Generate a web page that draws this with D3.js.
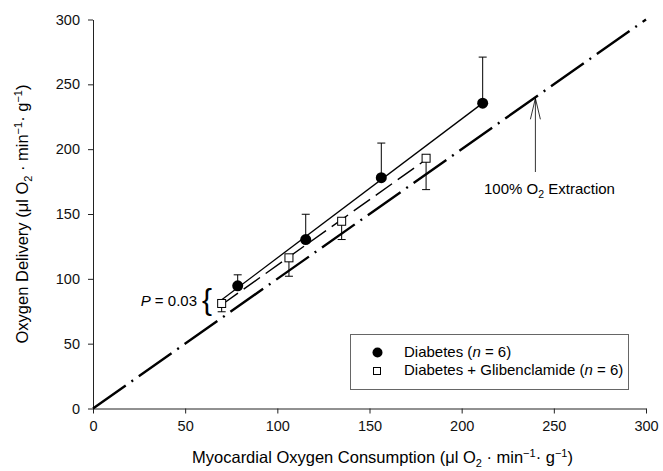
<!DOCTYPE html>
<html>
<head>
<meta charset="utf-8">
<script src="https://cdn.jsdelivr.net/npm/d3@7"></script>
<style>
  body { margin: 0; background: #fff; }
  svg { font-family: "Liberation Sans", Arial, sans-serif; }
</style>
</head>
<body>
<svg id="chart" width="663" height="471"></svg>
<script>
// values
const diabetesX = [78.5, 115.4, 156.4, 211.4];
const diabetesY = [94.6, 130.3, 178, 235.5];
const diabetesErr = [8.5, 19.5, 26.7, 35.5];     // SEM, drawn upward

const glibX = [69.8, 106.3, 134.9, 180.7];
const glibY = [81, 116.2, 144.4, 193];
const glibErr = [6.4, 14.2, 14.1, 24.2];         // SEM, drawn downward

// regression line end points
const diabetesLineX = [70, 211.4];
const diabetesLineY = [84, 235.5];
const glibLineX = [69.8, 180.7];
const glibLineY = [80, 192];
// 100% O2 extraction (identity)
const identityX = [0, 300];
const identityY = [0, 300];

const tickValues = [0, 50, 100, 150, 200, 250, 300];

const svg = d3.select("#chart");

const x = d3.scaleLinear().domain([0, 300]).range([93, 646]);
const y = d3.scaleLinear().domain([0, 300]).range([408.5, 19.5]);

// axes
const xAxis = svg.append("g")
  .attr("transform", `translate(0,${y(0)})`)
  .call(d3.axisBottom(x).tickValues(tickValues).tickSize(5).tickPadding(7).tickSizeOuter(0));
const yAxis = svg.append("g")
  .attr("transform", `translate(${x(0)},0)`)
  .call(d3.axisLeft(y).tickValues(tickValues).tickSize(5).tickPadding(8).tickSizeOuter(0));

[xAxis, yAxis].forEach(g => {
  g.selectAll("text").attr("font-size", 14.5).attr("font-family", "Liberation Sans, Arial, sans-serif").attr("fill", "#111");
  g.selectAll("line, path").attr("stroke", "#222");
});

// axis titles
function unitTitle(sel, lead) {
  sel.append("tspan").text(lead + " (\u03bcl O");
  sel.append("tspan").attr("font-size", 11).attr("dy", 4).text("2");
  sel.append("tspan").attr("dy", -4).text(" \u00b7 min");
  sel.append("tspan").attr("font-size", 11).attr("dy", -6).text("\u22121");
  sel.append("tspan").attr("dy", 6).text("\u00b7 g");
  sel.append("tspan").attr("font-size", 11).attr("dy", -6).text("\u22121");
  sel.append("tspan").attr("dy", 6).text(")");
}

const xTitle = svg.append("text")
  .attr("x", (x(0) + x(300)) / 2 + 13)
  .attr("y", 463)
  .attr("text-anchor", "middle")
  .attr("font-size", 16.5);
unitTitle(xTitle, "Myocardial Oxygen Consumption");

const yTitle = svg.append("text")
  .attr("transform", `translate(28,${(y(0) + y(300)) / 2}) rotate(-90)`)
  .attr("text-anchor", "middle")
  .attr("font-size", 16.5);
unitTitle(yTitle, "Oxygen Delivery");

const line = d3.line().x(d => x(d[0])).y(d => y(d[1]));

// identity line
svg.append("path")
  .datum(d3.zip(identityX, identityY))
  .attr("d", line)
  .attr("fill", "none")
  .attr("stroke", "#000")
  .attr("stroke-width", 2.4)
  .attr("stroke-dasharray", "40,7,2,7");

// glibenclamide regression
svg.append("path")
  .datum(d3.zip(glibLineX, glibLineY))
  .attr("d", line)
  .attr("fill", "none")
  .attr("stroke", "#000")
  .attr("stroke-width", 1.4)
  .attr("stroke-dasharray", "20,7");

// diabetes regression
svg.append("path")
  .datum(d3.zip(diabetesLineX, diabetesLineY))
  .attr("d", line)
  .attr("fill", "none")
  .attr("stroke", "#000")
  .attr("stroke-width", 1.3);

// error bars
const cap = 4;
const diab = d3.zip(diabetesX, diabetesY, diabetesErr);
const glib = d3.zip(glibX, glibY, glibErr);

const errG = svg.append("g").attr("stroke", "#000").attr("stroke-width", 1);
diab.forEach(([dx, dy, e]) => {
  errG.append("line").attr("x1", x(dx)).attr("x2", x(dx)).attr("y1", y(dy)).attr("y2", y(dy + e));
  errG.append("line").attr("x1", x(dx) - cap).attr("x2", x(dx) + cap).attr("y1", y(dy + e)).attr("y2", y(dy + e));
});
glib.forEach(([dx, dy, e]) => {
  errG.append("line").attr("x1", x(dx)).attr("x2", x(dx)).attr("y1", y(dy)).attr("y2", y(dy - e));
  errG.append("line").attr("x1", x(dx) - cap).attr("x2", x(dx) + cap).attr("y1", y(dy - e)).attr("y2", y(dy - e));
});

// markers
svg.append("g").selectAll("circle")
  .data(diab)
  .join("circle")
  .attr("cx", d => x(d[0]))
  .attr("cy", d => y(d[1]))
  .attr("r", 5.5)
  .attr("fill", "#000");

const sq = 8;
svg.append("g").selectAll("rect")
  .data(glib)
  .join("rect")
  .attr("x", d => x(d[0]) - sq / 2)
  .attr("y", d => y(d[1]) - sq / 2)
  .attr("width", sq)
  .attr("height", sq)
  .attr("fill", "#fff")
  .attr("stroke", "#000")
  .attr("stroke-width", 1);

// P value with brace
const pText = svg.append("text")
  .attr("x", 197)
  .attr("y", 306)
  .attr("text-anchor", "end")
  .attr("font-size", 15);
pText.append("tspan").attr("font-style", "italic").text("P");
pText.append("tspan").text(" = 0.03");

svg.append("text")
  .attr("x", 207)
  .attr("y", 310)
  .attr("text-anchor", "middle")
  .attr("font-size", 30)
  .text("{");

// 100% O2 extraction annotation
const tipX = x(240), tipY = y(240) + 1;
svg.append("line")
  .attr("x1", tipX).attr("x2", tipX)
  .attr("y1", tipY).attr("y2", 172)
  .attr("stroke", "#000").attr("stroke-width", 0.8);
svg.append("path")
  .attr("d", `M${tipX - 5},${tipY + 21}L${tipX},${tipY}L${tipX + 5},${tipY + 21}`)
  .attr("fill", "none")
  .attr("stroke", "#000")
  .attr("stroke-width", 0.8);

const ext = svg.append("text")
  .attr("x", 484)
  .attr("y", 194)
  .attr("font-size", 15);
ext.append("tspan").text("100% O");
ext.append("tspan").attr("font-size", 10.5).attr("dy", 4).text("2");
ext.append("tspan").attr("dy", -4).text(" Extraction");

// legend
const legend = svg.append("g");
legend.append("rect")
  .attr("x", 350.5).attr("y", 334.5)
  .attr("width", 278).attr("height", 55)
  .attr("fill", "#fff")
  .attr("stroke", "#666")
  .attr("stroke-width", 1);
legend.append("circle")
  .attr("cx", 377.5).attr("cy", 352.5).attr("r", 5).attr("fill", "#000");
legend.append("rect")
  .attr("x", 373.5).attr("y", 367.5).attr("width", 7).attr("height", 7)
  .attr("fill", "#fff").attr("stroke", "#000");

const l1 = legend.append("text").attr("x", 404).attr("y", 357).attr("font-size", 15);
l1.append("tspan").text("Diabetes (");
l1.append("tspan").attr("font-style", "italic").text("n");
l1.append("tspan").text(" = 6)");

const l2 = legend.append("text").attr("x", 404).attr("y", 375).attr("font-size", 15);
l2.append("tspan").text("Diabetes + Glibenclamide (");
l2.append("tspan").attr("font-style", "italic").text("n");
l2.append("tspan").text(" = 6)");
</script>
</body>
</html>
